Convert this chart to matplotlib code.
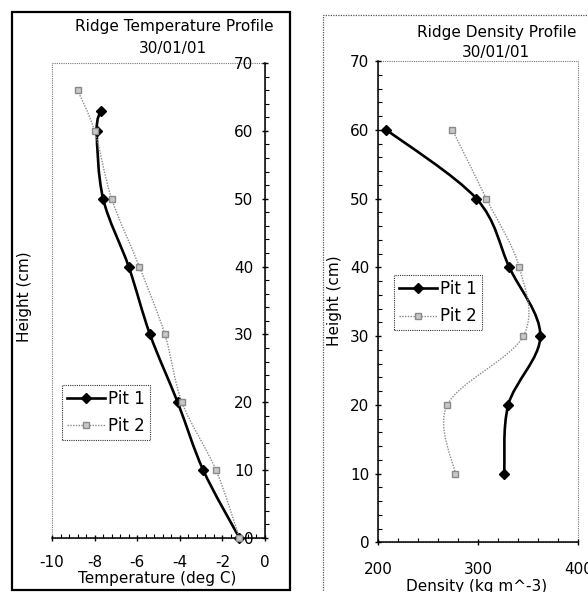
import numpy as np
import matplotlib
matplotlib.use('Agg')
import matplotlib.pyplot as plt
from matplotlib.path import Path
from matplotlib.patches import PathPatch, Rectangle
from matplotlib.lines import Line2D
from matplotlib.ticker import MultipleLocator

plt.rcParams['font.family'] = 'DejaVu Sans'
plt.rcParams['axes.unicode_minus'] = False

# temperature profile (deg C vs height cm)
temp_h1 = [63, 60, 50, 40, 30, 20, 10, 0]
temp_p1 = [-7.7, -7.9, -7.6, -6.4, -5.4, -4.1, -2.9, -1.2]
temp_h2 = [66, 60, 50, 40, 30, 20, 10, 0]
temp_p2 = [-8.8, -8.0, -7.2, -5.9, -4.7, -3.9, -2.3, -1.2]

# density profile (kg m^-3 vs height cm)
dens_h = [60, 50, 40, 30, 20, 10]
dens_p1 = [208, 298, 331, 362, 330, 326]
dens_p2 = [274, 308, 341, 345, 269, 277]

W, H = 588, 592
FS = 11


def fx(px):
    return px / W


def fy(py):
    return 1 - py / H


def smooth_path(x, y):
    # excel style smoothed line: catmull-rom segments as cubic beziers
    pts = np.column_stack([x, y]).astype(float)
    ext = np.vstack([pts[0], pts, pts[-1]])
    verts = [pts[0]]
    codes = [Path.MOVETO]
    for i in range(1, len(ext) - 2):
        p0, p1, p2, p3 = ext[i - 1], ext[i], ext[i + 1], ext[i + 2]
        verts += [p1 + (p2 - p0) / 6, p2 - (p3 - p1) / 6, p2]
        codes += [Path.CURVE4] * 3
    return Path(verts, codes)


pit1 = dict(color='black', lw=1.9, ls='-', marker='D', ms=5, mfc='black', mec='black')
pit2 = dict(color='#8a8a8a', lw=1.0, ls=(0, (1, 1)), marker='s', ms=4.5, mfc='#c8c8c8', mec='#8a8a8a')


def draw_series(ax, x, y, st):
    ax.add_patch(PathPatch(smooth_path(x, y), fill=False, edgecolor=st['color'],
                           lw=st['lw'], ls=st['ls'], zorder=3))
    ax.plot(x, y, ls='none', marker=st['marker'], ms=st['ms'],
            mfc=st['mfc'], mec=st['mec'], zorder=4, clip_on=False)


def handle(st, label):
    return Line2D([], [], color=st['color'], lw=st['lw'], ls=st['ls'], marker=st['marker'],
                  ms=st['ms'], mfc=st['mfc'], mec=st['mec'], label=label)


def style_axes(ax):
    ax.spines['top'].set_visible(False)
    ax.spines['right'].set_visible(False)
    for s in ('left', 'bottom'):
        ax.spines[s].set_linewidth(1.1)
    ax.add_patch(Rectangle((0, 0), 1, 1, transform=ax.transAxes, fill=False,
                           ec='#777777', lw=0.8, ls=(0, (1, 1)), clip_on=False, zorder=0))
    ax.tick_params(which='major', direction='inout', length=5, width=1, labelsize=FS)
    ax.tick_params(which='minor', direction='in', length=3, width=0.8)
    ax.set_facecolor('none')


def add_legend(ax, anchor):
    leg = ax.legend(handles=[handle(pit1, 'Pit 1'), handle(pit2, 'Pit 2')],
                    loc='upper left', bbox_to_anchor=anchor, borderaxespad=0,
                    fancybox=False, edgecolor='#333333', framealpha=1, fontsize=12,
                    handlelength=2.3, borderpad=0.3, labelspacing=0.55, handletextpad=0.15)
    leg.get_frame().set_linewidth(0.8)
    leg.get_frame().set_linestyle((0, (1, 1)))
    return leg


fig = plt.figure(figsize=(5.88, 5.92), dpi=100)

# outer chart frames
fig.patches.append(Rectangle((fx(12), fy(590)), fx(290) - fx(12), fy(12) - fy(590),
                             transform=fig.transFigure, fill=False, ec='black', lw=1.6))
fig.patches.append(Rectangle((fx(323), fy(600)), fx(620) - fx(323), fy(15) - fy(600),
                             transform=fig.transFigure, fill=False, ec='#555555', lw=0.9,
                             ls=(0, (1, 1))))

# left: temperature
ax1 = fig.add_axes([fx(52), fy(538), fx(265) - fx(52), fy(63) - fy(538)])
ax1.set_xlim(-10, 0)
ax1.set_ylim(0, 70)
style_axes(ax1)
ax1.spines['left'].set_position(('data', 0))
ax1.xaxis.set_major_locator(MultipleLocator(2))
ax1.xaxis.set_minor_locator(MultipleLocator(0.4))
ax1.yaxis.set_major_locator(MultipleLocator(10))
ax1.yaxis.set_minor_locator(MultipleLocator(2))
ax1.tick_params(axis='x', which='major', pad=9.5)
ax1.tick_params(axis='y', which='major', pad=6)
draw_series(ax1, temp_p1, temp_h1, pit1)
draw_series(ax1, temp_p2, temp_h2, pit2)
add_legend(ax1, (0.047, 0.322))

# right: density
ax2 = fig.add_axes([fx(378.3), fy(542.3), fx(578.3) - fx(378.3), fy(61) - fy(542.3)])
ax2.set_xlim(200, 400)
ax2.set_ylim(0, 70)
style_axes(ax2)
ax2.xaxis.set_major_locator(MultipleLocator(100))
ax2.xaxis.set_minor_locator(MultipleLocator(20))
ax2.yaxis.set_major_locator(MultipleLocator(10))
ax2.yaxis.set_minor_locator(MultipleLocator(2))
ax2.tick_params(axis='x', which='major', pad=11.5)
ax2.tick_params(axis='y', which='major', pad=4)
draw_series(ax2, dens_p1, dens_h, pit1)
draw_series(ax2, dens_p2, dens_h, pit2)
add_legend(ax2, (0.0785, 0.555))

# titles and axis labels
fig.text(fx(174), fy(26), 'Ridge Temperature Profile', ha='center', va='center', fontsize=FS)
fig.text(fx(173), fy(48), '30/01/01', ha='center', va='center', fontsize=FS)
fig.text(fx(497), fy(32), 'Ridge Density Profile', ha='center', va='center', fontsize=FS)
fig.text(fx(496), fy(53), '30/01/01', ha='center', va='center', fontsize=FS)
fig.text(fx(157), fy(578), 'Temperature (deg C)', ha='center', va='center', fontsize=FS)
fig.text(fx(477), fy(586), 'Density (kg m^-3)', ha='center', va='center', fontsize=FS)
fig.text(fx(25), fy(297), 'Height (cm)', ha='center', va='center', rotation=90, fontsize=FS)
fig.text(fx(335), fy(301), 'Height (cm)', ha='center', va='center', rotation=90, fontsize=FS)

fig.savefig('out.png', dpi=100)
